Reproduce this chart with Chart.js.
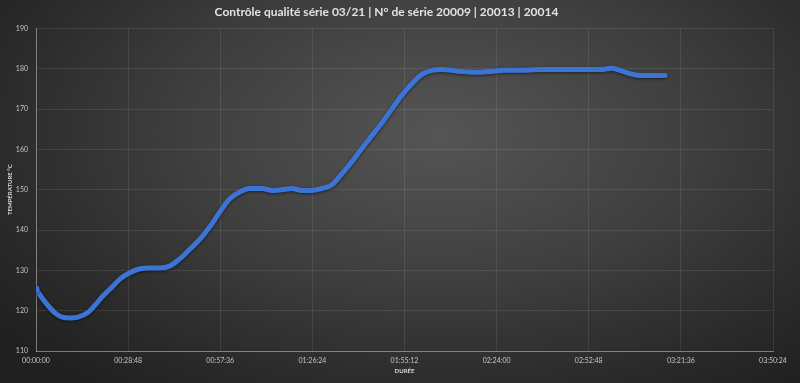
<!DOCTYPE html>
<html>
<head>
<meta charset="utf-8">
<script src="https://cdn.jsdelivr.net/npm/chart.js@4.4.1/dist/chart.umd.min.js"></script>
<style>
  html, body { margin: 0; padding: 0; }
  body {
    width: 800px; height: 383px; overflow: hidden;
    background: radial-gradient(ellipse 70% 85% at 55% 35%, #555555 0%, #3f3f3f 45%, #2a2a2a 80%, #202020 100%);
  }
  canvas { display: block; }
</style>
</head>
<body>
<canvas id="chart" width="800" height="383"></canvas>
<script>
// elapsed time in seconds
const elapsed = [
  0, 110, 230, 360, 490, 640, 790, 960, 1110, 1260, 1430, 1580, 1760, 1950, 2140,
  2330, 2510, 2700, 2890, 3080, 3260, 3450, 3640, 3830, 4010, 4240, 4430, 4610,
  4800, 4990, 5180, 5360, 5550, 5740, 5930, 6110, 6300, 6490, 6680, 6860, 7050,
  7240, 7430, 7620, 7800, 7990, 8230, 8520, 8800, 9080, 9450, 9830, 10200, 10580,
  10800, 10950, 11140, 11330, 11550, 11800
];
// temperature in °C
const temperature = [
  125.4, 123.2, 121.2, 119.4, 118.4, 118.2, 118.4, 119.4, 121.4, 123.7, 125.9, 127.9, 129.4, 130.4, 130.6,
  130.6, 131.1, 132.9, 135.3, 137.8, 140.8, 144.5, 147.8, 149.5, 150.3, 150.3, 149.8, 150.0,
  150.3, 149.8, 149.8, 150.3, 151.2, 154.0, 157.0, 160.2, 163.4, 166.6, 170.1, 173.4, 176.3,
  178.6, 179.6, 179.8, 179.6, 179.3, 179.1, 179.3, 179.6, 179.6, 179.8, 179.8, 179.8, 179.8,
  180.1, 179.6, 178.8, 178.3, 178.3, 178.3
];
const xMin = 0, xMax = 13824, xStep = 1728;
const yMin = 110, yMax = 190, yStep = 10;

const fmt = s => {
  const h = Math.floor(s / 3600), m = Math.floor((s % 3600) / 60), sec = Math.round(s % 60);
  return [h, m, sec].map(v => String(v).padStart(2, '0')).join(':');
};

const lineShadow = {
  id: 'lineShadow',
  beforeDatasetDraw(chart) {
    const c = chart.ctx;
    c.save();
    c.shadowColor = 'rgba(0,0,0,0.55)';
    c.shadowBlur = 3;
    c.shadowOffsetY = 1;
  },
  afterDatasetDraw(chart) { chart.ctx.restore(); }
};

new Chart(document.getElementById('chart'), {
  type: 'line',
  data: {
    datasets: [{
      label: 'Température',
      data: elapsed.map((t, i) => ({ x: t, y: temperature[i] })),
      borderColor: '#3c74d6',
      backgroundColor: '#3c74d6',
      borderWidth: 5,
      borderCapStyle: 'round',
      borderJoinStyle: 'round',
      cubicInterpolationMode: 'monotone',
      pointRadius: c => c.dataIndex === 0 ? 3.5 : 0,
      pointBorderWidth: 0,
      fill: false
    }]
  },
  options: {
    responsive: false,
    animation: false,
    devicePixelRatio: 1,
    layout: { padding: { left: 0, right: 27, top: 0, bottom: 8 } },
    plugins: {
      legend: { display: false },
      tooltip: { enabled: false },
      title: {
        display: true,
        text: 'Contrôle qualité série 03/21 | N° de série 20009 | 20013 | 20014',
        color: '#e2e2e2',
        font: { family: 'Lato', size: 12, weight: 'bold' },
        padding: { top: 5, bottom: 9 }
      }
    },
    scales: {
      x: {
        type: 'linear',
        min: xMin, max: xMax,
        afterFit: s => { s.height = 24; },
        ticks: {
          stepSize: xStep,
          autoSkip: false,
          color: '#c4c4c4',
          font: { family: 'Lato', size: 7 },
          padding: 6,
          maxRotation: 0,
          callback: v => fmt(v)
        },
        grid: { color: 'rgba(255,255,255,0.09)', drawTicks: false },
        border: { color: 'rgba(255,255,255,0.35)' },
        title: {
          display: true, text: 'DURÉE', color: '#d8d8d8',
          font: { family: 'Lato', size: 6, weight: 'bold' }, padding: { top: 2, bottom: 0 }
        }
      },
      y: {
        min: yMin, max: yMax,
        afterFit: s => { s.width = 36; },
        ticks: {
          stepSize: yStep,
          autoSkip: false,
          color: '#c4c4c4',
          font: { family: 'Lato', size: 7 },
          padding: 8
        },
        grid: { color: 'rgba(255,255,255,0.09)', drawTicks: false },
        border: { color: 'rgba(255,255,255,0.35)' },
        title: {
          display: true, text: 'TEMPÉRATURE °C', color: '#d8d8d8',
          font: { family: 'Lato', size: 6, weight: 'bold' }, padding: { top: 6, bottom: 0 }
        }
      }
    }
  },
  plugins: [lineShadow]
});
</script>
</body>
</html>
